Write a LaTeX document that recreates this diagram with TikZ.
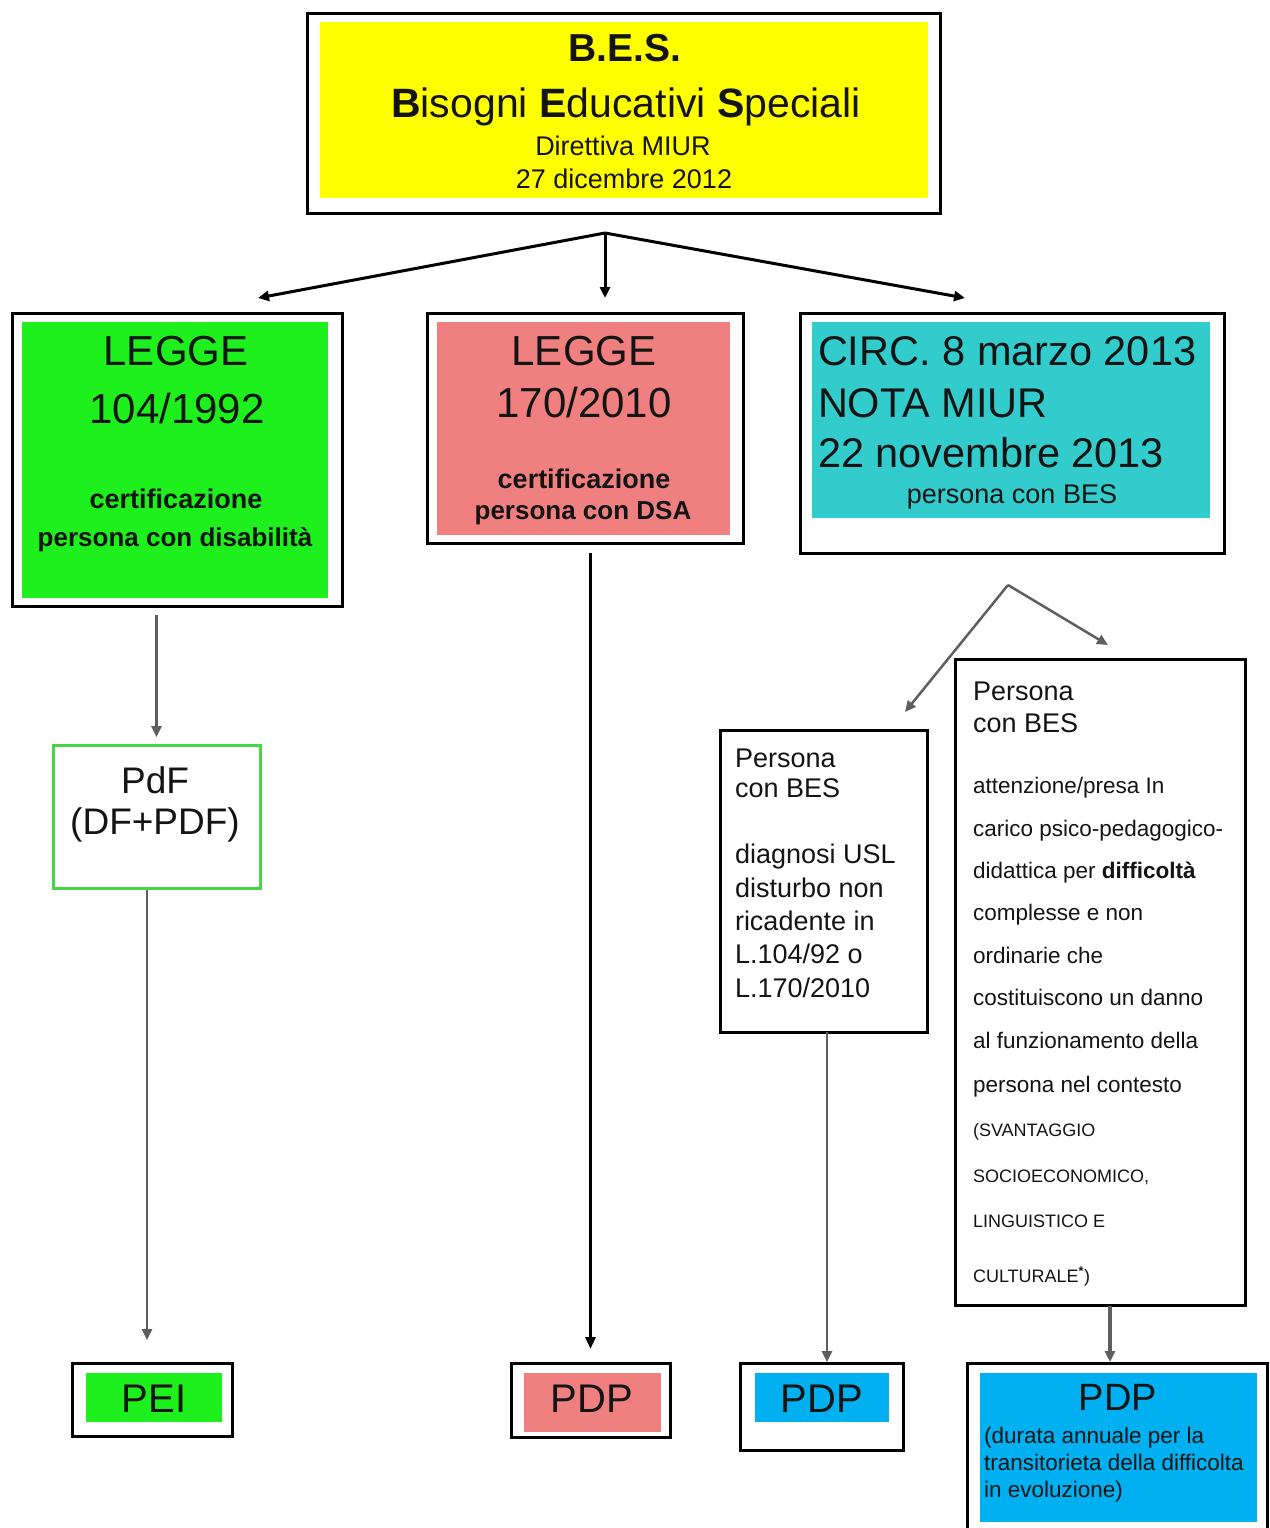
\documentclass[tikz,border=0pt]{standalone}
\usepackage{fontspec}
\setmainfont{Liberation Sans}
\usetikzlibrary{arrows.meta,calc}
\definecolor{cyel}{RGB}{255,255,0}
\definecolor{cgreen}{RGB}{30,240,30}
\definecolor{cpink}{RGB}{240,128,128}
\definecolor{ccyan}{RGB}{51,204,204}
\definecolor{cblue}{RGB}{0,176,240}
\definecolor{cpdfg}{RGB}{70,215,70}
\definecolor{carrow}{RGB}{95,95,95}
\definecolor{ctext}{RGB}{20,20,20}
\newcommand{\fsz}[1]{\fontsize{#1}{#1}\selectfont}
\begin{document}
\begin{tikzpicture}[x=1pt,y=-1pt,
  outerbox/.style={draw=black,line width=3pt,inner sep=0pt,outer sep=0pt},
  fillbox/.style={inner sep=0pt,outer sep=0pt},
  tc/.style={inner sep=0pt,outer sep=0pt,anchor=base,text=ctext},
  tl/.style={inner sep=0pt,outer sep=0pt,anchor=base west,text=ctext},
  tarr/.style={line width=3pt,draw=black,-{Triangle[length=11pt,width=10pt]}},
  garr/.style={line width=2.5pt,draw=carrow,-{Triangle[length=11pt,width=10pt]}},
  barr/.style={line width=3pt,draw=black,-{Triangle[length=12pt,width=10pt]}},
]
\useasboundingbox[fill=white] (0,0) rectangle (1269,1528);
\clip (0,0) rectangle (1269,1528);

% ---------- top box ----------
\node[outerbox, minimum width=633pt, minimum height=199pt] (top) at (623.5,113.5) {};
\node[fillbox, fill=cyel, minimum width=608pt, minimum height=176pt] (topf) at (624,110) {};
\node[tc, font=\bfseries\fsz{39}] (t1) at (625,62) {B.E.S.};
\node[tc, font=\fsz{41}] (t2) at (626,117) {\textbf{B}isogni \textbf{E}ducativi \textbf{S}peciali};
\node[tc, font=\fsz{27}] (t3) at (623,155) {Direttiva MIUR};
\node[tc, font=\fsz{27}] (t4) at (624,188) {27 dicembre 2012};

% ---------- second row ----------
\node[outerbox, minimum width=330pt, minimum height=293pt] (b1) at (177,459.5) {};
\node[fillbox, fill=cgreen, minimum width=306pt, minimum height=276pt] (b1f) at (175,460) {};
\node[tc, font=\fsz{42}] (b1a) at (176,365) {LEGGE};
\node[tc, font=\fsz{42}] (b1b) at (177,423) {104/1992};
\node[tc, font=\bfseries\fsz{27}] (b1c) at (176,508) {certificazione};
\node[tc, font=\bfseries\fsz{26}] (b1d) at (175,546) {persona con disabilità};

\node[outerbox, minimum width=316pt, minimum height=230pt] (b2) at (585,428) {};
\node[fillbox, fill=cpink, minimum width=293pt, minimum height=213pt] (b2f) at (583.5,428.5) {};
\node[tc, font=\fsz{42}] (b2a) at (584,365) {LEGGE};
\node[tc, font=\fsz{42}] (b2b) at (584,417) {170/2010};
\node[tc, font=\bfseries\fsz{27}] (b2c) at (584,488) {certificazione};
\node[tc, font=\bfseries\fsz{26}] (b2d) at (583,519) {persona con DSA};

\node[outerbox, minimum width=424pt, minimum height=240pt] (b3) at (1012,433) {};
\node[fillbox, fill=ccyan, minimum width=398pt, minimum height=196pt] (b3f) at (1011,420) {};
\node[tl, font=\fsz{41.5}] (b3a) at (818,365) {CIRC. 8 marzo 2013};
\node[tl, font=\fsz{41.5}] (b3b) at (818,417) {NOTA MIUR};
\node[tl, font=\fsz{41.5}] (b3c) at (818,467) {22 novembre 2013};
\node[tc, font=\fsz{27}] (b3d) at (1012,503) {persona con BES};

% ---------- left column ----------
\node[draw=cpdfg, line width=3pt, inner sep=0pt, outer sep=0pt, minimum width=207pt, minimum height=143pt] (pdf) at (156.5,816.5) {};
\node[tc, font=\fsz{37}] (pdfa) at (155,793) {PdF};
\node[tc, font=\fsz{37}] (pdfb) at (155,834) {(DF+PDF)};

\node[outerbox, minimum width=160pt, minimum height=73pt] (pei) at (152,1399.5) {};
\node[fillbox, fill=cgreen, minimum width=136pt, minimum height=49pt] (peif) at (154,1397.5) {};
\node[tc, font=\fsz{40}] (peit) at (154,1412) {PEI};

% ---------- middle column ----------
\node[outerbox, minimum width=159pt, minimum height=74pt] (pdp1) at (590.5,1400) {};
\node[fillbox, fill=cpink, minimum width=137pt, minimum height=59pt] (pdp1f) at (592.5,1402.5) {};
\node[tc, font=\fsz{40}] (pdp1t) at (592,1412) {PDP};

% ---------- right branch ----------
\node[outerbox, minimum width=207pt, minimum height=302pt] (pl) at (823.5,881) {};
\node[tl, font=\fsz{27}] (pl1) at (735,767) {Persona};
\node[tl, font=\fsz{27}] (pl2) at (735,797) {con BES};
\node[tl, font=\fsz{27}] (pl3) at (735,863) {diagnosi USL};
\node[tl, font=\fsz{27}] (pl4) at (735,897) {disturbo non};
\node[tl, font=\fsz{27}] (pl5) at (735,930) {ricadente in};
\node[tl, font=\fsz{27}] (pl6) at (735,963) {L.104/92 o};
\node[tl, font=\fsz{27}] (pl7) at (735,997) {L.170/2010};

\node[outerbox, minimum width=290pt, minimum height=646pt] (pr) at (1100,982) {};
\node[tl, font=\fsz{27}] (pr1) at (973,700) {Persona};
\node[tl, font=\fsz{27}] (pr2) at (973,732) {con BES};
\node[tl, font=\fsz{22.5}] (pr3) at (973,793) {attenzione/presa In};
\node[tl, font=\fsz{22.5}] (pr4) at (973,836) {carico psico-pedagogico-};
\node[tl, font=\fsz{22.5}] (pr5) at (973,878) {didattica per \textbf{difficoltà}};
\node[tl, font=\fsz{22.5}] (pr6) at (973,920) {complesse e non};
\node[tl, font=\fsz{22.5}] (pr7) at (973,963) {ordinarie che};
\node[tl, font=\fsz{22.5}] (pr8) at (973,1005) {costituiscono un danno};
\node[tl, font=\fsz{22.5}] (pr9) at (973,1048) {al funzionamento della};
\node[tl, font=\fsz{22.5}] (pr10) at (973,1092) {persona nel contesto};
\node[tl, font=\fsz{18}] (pr11) at (973,1136) {(SVANTAGGIO};
\node[tl, font=\fsz{18}] (pr12) at (973,1182) {SOCIOECONOMICO,};
\node[tl, font=\fsz{18}] (pr13) at (973,1227) {LINGUISTICO E};
\node[tl, font=\fsz{18}] (pr14) at (973,1282) {CULTURALE\textsuperscript{\textbf{*}})};

\node[outerbox, minimum width=163pt, minimum height=87pt] (pdp2) at (821.5,1406.5) {};
\node[fillbox, fill=cblue, minimum width=134pt, minimum height=49pt] (pdp2f) at (822,1397.5) {};
\node[tc, font=\fsz{40}] (pdp2t) at (822,1412) {PDP};

\node[outerbox, minimum width=300pt, minimum height=180pt] (pdp3) at (1117,1453) {};
\node[fillbox, fill=cblue, minimum width=277pt, minimum height=149pt] (pdp3f) at (1118.5,1447.5) {};
\node[tc, font=\fsz{38}] (pdp3t) at (1118,1410) {PDP};
\node[tl, font=\fsz{22.5}] (pdp3a) at (984,1443) {(durata annuale per la};
\node[tl, font=\fsz{22.5}] (pdp3b) at (984,1470) {transitorieta della difficolta};
\node[tl, font=\fsz{22.5}] (pdp3c) at (984,1497) {in evoluzione)};

% ---------- connectors ----------
\coordinate (j1) at (605,233);
\coordinate (k1) at (258,298);
\coordinate (k2) at (605,298);
\coordinate (k3) at (965,298);
\draw[tarr] (j1) -- (k1);
\draw[tarr] (j1) -- (k2);
\draw[tarr] (j1) -- (k3);

\draw[garr, shorten <=9pt, shorten >=8pt] (b1.south -| pdf.north) -- (pdf.north);
\coordinate (a2s) at (147,890);
\coordinate (a2e) at (147,1340);
\draw[garr] (a2s) -- (a2e);

\draw[barr, shorten <=10pt, shorten >=14pt] (b2.south -| pdp1.north) -- (pdp1.north);

\coordinate (j2) at (1008,585);
\coordinate (k4) at (905,712);
\coordinate (k5) at (1108,645);
\draw[garr] (j2) -- (k4);
\draw[garr] (j2) -- (k5);

\coordinate (a3s) at (827,1032);
\coordinate (a3e) at (827,1362);
\draw[garr] (a3s) -- (a3e);

\coordinate (a4s) at (1110,1306);
\coordinate (a4e) at (1110,1362);
\draw[garr, line width=4pt] (a4s) -- (a4e);
\end{tikzpicture}
\end{document}
